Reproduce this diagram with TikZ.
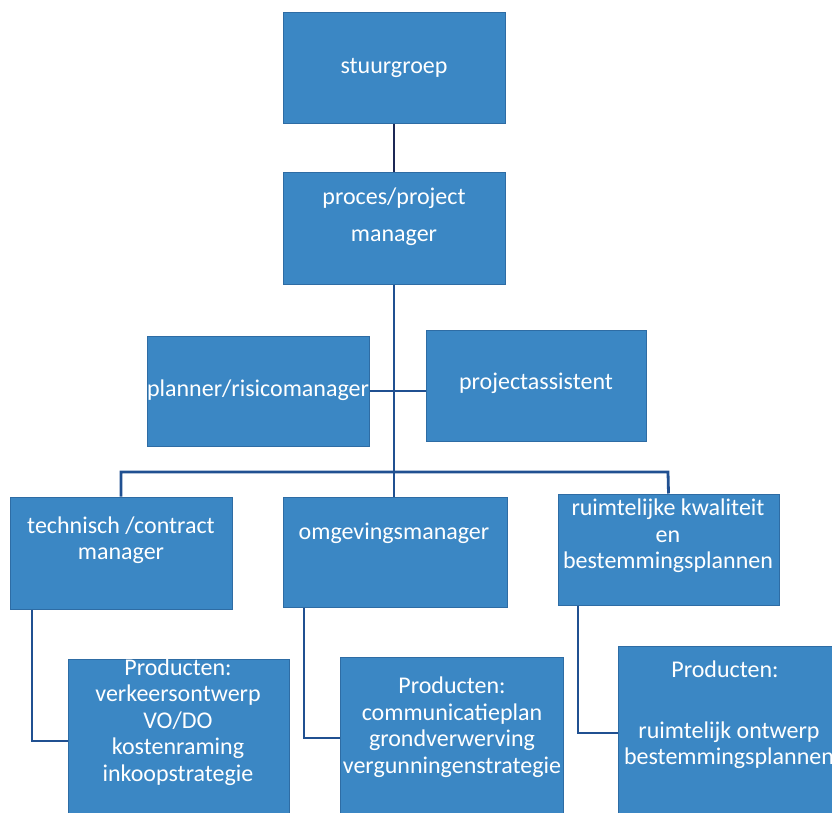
\documentclass[tikz,border=0pt]{standalone}
\usepackage{fontspec}
\setmainfont{Carlito}
\definecolor{boxfill}{RGB}{59,135,196}
\definecolor{boxline}{RGB}{46,108,164}
\definecolor{conn}{RGB}{32,80,145}
\definecolor{darkconn}{RGB}{28,40,85}
\begin{document}
\begin{tikzpicture}[x=1pt,y=-1pt,
  box/.style={draw=boxline,line width=1pt,fill=boxfill,inner sep=0pt},
  lbl/.style={text=white,align=center,inner sep=0pt,font=\fontsize{24}{26.5}\selectfont},
  wire/.style={draw=conn,line width=2.8pt},
]
\useasboundingbox (0,0) rectangle (832,813);
\clip (0,0) rectangle (832,813);
\fill[white] (0,0) rectangle (832,813);
% boxes
\node[box,minimum width=222pt,minimum height=111pt] (s) at (394,68.5) {};
\node[box,minimum width=222pt,minimum height=111pt] (p) at (394,228.5) {};
\node[box,minimum width=222pt,minimum height=110pt] (pl) at (258,391) {};
\node[box,minimum width=220pt,minimum height=111pt] (pa) at (536,385.5) {};
\node[box,minimum width=222pt,minimum height=112pt] (t) at (121,553) {};
\node[box,minimum width=224pt,minimum height=110pt] (o) at (395,552) {};
\node[box,minimum width=221pt,minimum height=111pt] (r) at (668.5,549.5) {};
\node[box,minimum width=221pt,minimum height=164pt] (tp) at (178.5,741) {};
\node[box,minimum width=223pt,minimum height=166pt] (op) at (451.5,740) {};
\node[box,minimum width=222pt,minimum height=176pt] (rp) at (729,734) {};
% labels
\node[lbl] (ls) at (394,68) {stuurgroep};
\node[lbl,font=\fontsize{24}{37}\selectfont] (lp) at (394,217) {proces/project\\manager};
\node[lbl] (lpl) at (258,390) {planner/risicomanager};
\node[lbl] (lpa) at (536,383) {projectassistent};
\node[lbl] (lt) at (121,540) {technisch /contract\\manager};
\node[lbl] (lo) at (394,533) {omgevingsmanager};
\node[lbl] (lr) at (668,536) {ruimtelijke kwaliteit\\en\\bestemmingsplannen};
\node[lbl] (ltp) at (178,722) {Producten:\\verkeersontwerp\\VO/DO\\kostenraming\\inkoopstrategie};
\node[lbl] (lop) at (452,727) {Producten:\\communicatieplan\\grondverwerving\\vergunningenstrategie};
\node[lbl] (lrp1) at (725,669) {Producten:};
\node[lbl] (lrp2) at (729,745) {ruimtelijk ontwerp\\bestemmingsplannen};
% connectors
\coordinate (hl) at (121,472);
\coordinate (hr) at (668,472);
\draw[draw=darkconn,line width=2.8pt] (s.south) -- (p.north);
\draw[wire] (p.south) -- (p.south |- o.north);
\draw[wire] (t.north) -- (hl) -- (hr) -- (r.north);
\draw[wire] (pl.east) -- (pl.east -| pa.west);
\draw[wire] (t.south -| 32,0) -- (32,741) -- (32,741 -| tp.west);
\draw[wire] (o.south -| 304,0) -- (304,738) -- (304,738 -| op.west);
\draw[wire] (r.south -| 578,0) -- (578,733) -- (578,733 -| rp.west);
\end{tikzpicture}
\end{document}
